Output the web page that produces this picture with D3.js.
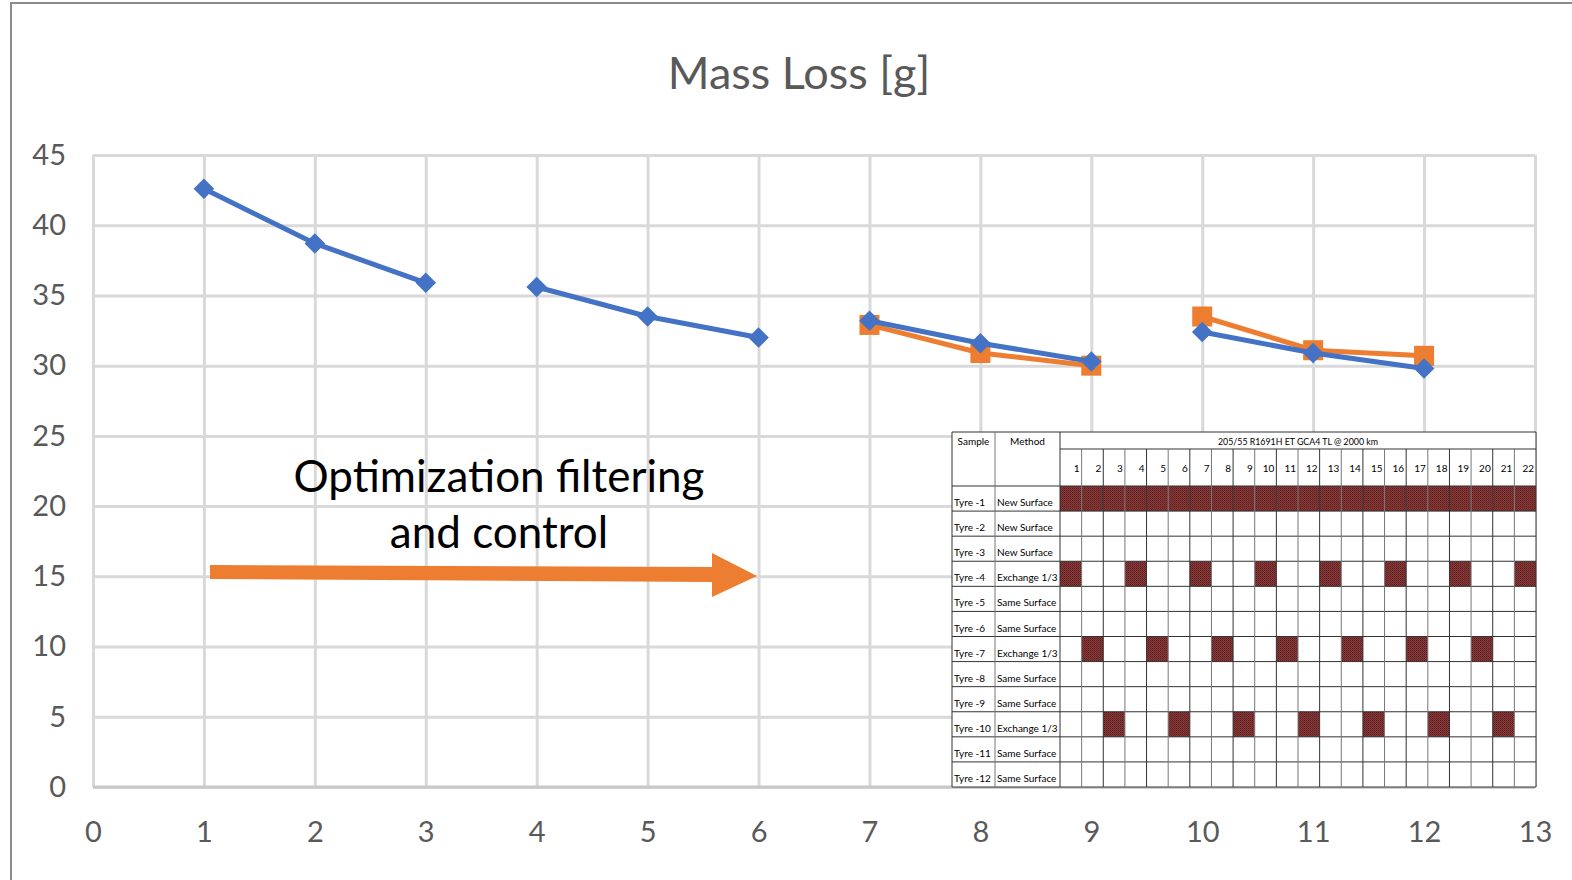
<!DOCTYPE html>
<html>
<head>
<meta charset="utf-8">
<script src="https://cdn.jsdelivr.net/npm/d3@7"></script>
<style>
  body { margin: 0; background: #fff; }
  svg { display: block; }
</style>
</head>
<body>
<div class="chart"></div>
<script>
// chart values
var xValues = [1, 2, 3, 4, 5, 6, 7, 8, 9, 10, 11, 12]
var segment = [1, 1, 1, 2, 2, 2, 3, 3, 3, 4, 4, 4]
var blueValues = [42.6, 38.7, 35.9, 35.6, 33.5, 32.0, 33.2, 31.6, 30.3, 32.4, 30.9, 29.8]
var orangeValues = [null, null, null, null, null, null, 32.9, 30.9, 30.0, 33.5, 31.1, 30.7]
var xTicks = [0, 1, 2, 3, 4, 5, 6, 7, 8, 9, 10, 11, 12, 13]
var yTicks = [0, 5, 10, 15, 20, 25, 30, 35, 40, 45]

// inset table values
var samples = ['Tyre -1', 'Tyre -2', 'Tyre -3', 'Tyre -4', 'Tyre -5', 'Tyre -6',
  'Tyre -7', 'Tyre -8', 'Tyre -9', 'Tyre -10', 'Tyre -11', 'Tyre -12']
var methods = ['New Surface', 'New Surface', 'New Surface', 'Exchange 1/3', 'Same Surface', 'Same Surface',
  'Exchange 1/3', 'Same Surface', 'Same Surface', 'Exchange 1/3', 'Same Surface', 'Same Surface']
var runs = [1, 2, 3, 4, 5, 6, 7, 8, 9, 10, 11, 12, 13, 14, 15, 16, 17, 18, 19, 20, 21, 22]
var filledRuns = [
  [1, 2, 3, 4, 5, 6, 7, 8, 9, 10, 11, 12, 13, 14, 15, 16, 17, 18, 19, 20, 21, 22],
  [], [],
  [1, 4, 7, 10, 13, 16, 19, 22],
  [], [],
  [2, 5, 8, 11, 14, 17, 20],
  [], [],
  [3, 6, 9, 12, 15, 18, 21],
  [], []
]
var tableTitle = '205/55 R1691H ET GCA4 TL  @ 2000 km'

var width = 1572
var height = 880
var blue = '#4472c4'
var orange = '#ed7d31'
var font = 'Lato, "Open Sans", sans-serif'

var svg = d3.select('.chart')
  .append('svg')
  .attr('width', width)
  .attr('height', height)

// frame
svg.append('path')
  .attr('d', 'M11,880 V3 H1572')
  .attr('fill', 'none')
  .attr('stroke', '#8c8c8c')
  .attr('stroke-width', 2)

var x = d3.scaleLinear().domain([0, 13]).range([93, 1535])
var y = d3.scaleLinear().domain([0, 45]).range([787, 155])

// title
svg.append('text')
  .attr('x', 799)
  .attr('y', 89)
  .attr('text-anchor', 'middle')
  .style('font-family', font)
  .style('font-size', '45px')
  .style('fill', '#595959')
  .text('Mass Loss [g]')

// gridlines
svg.append('g')
  .attr('transform', 'translate(0,' + y(0) + ')')
  .call(d3.axisBottom(x).tickValues(xTicks).tickSize(-(y(0) - y(45))).tickFormat(''))
  .call(function (g) { g.select('.domain').remove() })
  .selectAll('line').attr('stroke', '#d9d9d9').attr('stroke-width', 3)

svg.append('g')
  .attr('transform', 'translate(' + x(0) + ',0)')
  .call(d3.axisLeft(y).tickValues(yTicks).tickSize(-(x(13) - x(0))).tickFormat(''))
  .call(function (g) { g.select('.domain').remove() })
  .selectAll('line').attr('stroke', '#d9d9d9').attr('stroke-width', 3)

// axis baseline
svg.append('line')
  .attr('x1', x(0)).attr('x2', x(13))
  .attr('y1', y(0)).attr('y2', y(0))
  .attr('stroke', '#c8c8c8')
  .attr('stroke-width', 3)

// tick labels
var xAxis = svg.append('g')
  .attr('transform', 'translate(0,' + y(0) + ')')
  .call(d3.axisBottom(x).tickValues(xTicks).tickSize(0).tickPadding(34))
xAxis.select('.domain').remove()
xAxis.selectAll('text')
  .style('font-family', font)
  .style('font-size', '29px')
  .style('fill', '#595959')

var yAxis = svg.append('g')
  .attr('transform', 'translate(' + x(0) + ',0)')
  .call(d3.axisLeft(y).tickValues(yTicks).tickSize(0).tickPadding(27))
yAxis.select('.domain').remove()
yAxis.selectAll('text')
  .style('font-family', font)
  .style('font-size', '29px')
  .style('fill', '#595959')

// annotation text and arrow
var note = svg.append('text')
  .attr('text-anchor', 'middle')
  .style('font-family', font)
  .style('font-size', '44px')
  .style('fill', '#000')
note.append('tspan').attr('x', 499).attr('y', 492).text('Optimization filtering')
note.append('tspan').attr('x', 499).attr('y', 548).text('and control')

svg.append('path')
  .attr('d', 'M210,565 L712,567 L712,553 L757,576 L712,597 L712,582 L210,579 Z')
  .attr('fill', orange)

// series
var pts = xValues.map(function (d, i) {
  return {x: d, seg: segment[i], b: blueValues[i], o: orangeValues[i]}
})
var segs = d3.groups(pts, function (d) { return d.seg })

function drawSeries(key, color) {
  var line = d3.line()
    .defined(function (d) { return d[key] != null })
    .x(function (d) { return x(d.x) })
    .y(function (d) { return y(d[key]) })
  segs.forEach(function (s) {
    svg.append('path')
      .datum(s[1])
      .attr('d', line)
      .attr('fill', 'none')
      .attr('stroke', color)
      .attr('stroke-width', 5)
  })
}

drawSeries('o', orange)
svg.selectAll('.sq')
  .data(pts.filter(function (d) { return d.o != null }))
  .enter().append('rect')
  .attr('class', 'sq')
  .attr('x', function (d) { return x(d.x) - 10 })
  .attr('y', function (d) { return y(d.o) - 10 })
  .attr('width', 20)
  .attr('height', 20)
  .attr('fill', orange)

drawSeries('b', blue)
svg.selectAll('.dm')
  .data(pts)
  .enter().append('path')
  .attr('class', 'dm')
  .attr('d', d3.symbol().type(d3.symbolDiamond2).size(270))
  .attr('transform', function (d) { return 'translate(' + x(d.x) + ',' + y(d.b) + ')' })
  .attr('fill', blue)

// inset table
var defs = svg.append('defs')
var pat = defs.append('pattern')
  .attr('id', 'hatch')
  .attr('width', 2).attr('height', 2)
  .attr('patternUnits', 'userSpaceOnUse')
pat.append('rect').attr('width', 2).attr('height', 2).attr('fill', '#8a3a3a')
pat.append('rect').attr('width', 1).attr('height', 1).attr('fill', '#5a1f1f')
pat.append('rect').attr('x', 1).attr('y', 1).attr('width', 1).attr('height', 1).attr('fill', '#6a2828')

var tLeft = 952, tRight = 1536, tTop = 432, tBottom = 787
var colSample = 995, colMethod = 1060
var hdr1 = 449, hdr2 = 486

var cx = d3.scaleBand().domain(runs).range([colMethod, tRight])
var ry = d3.scaleBand().domain(samples).range([hdr2, tBottom])

var table = svg.append('g').style('font-family', font).style('font-size', '10px').style('fill', '#000')

table.append('rect')
  .attr('x', tLeft).attr('y', tTop)
  .attr('width', tRight - tLeft).attr('height', tBottom - tTop)
  .attr('fill', '#fff')

// filled cells
samples.forEach(function (s, i) {
  table.selectAll(null)
    .data(filledRuns[i])
    .enter().append('rect')
    .attr('x', function (d) { return cx(d) })
    .attr('y', ry(s))
    .attr('width', cx.bandwidth())
    .attr('height', ry.bandwidth())
    .attr('fill', 'url(#hatch)')
})

// grid of table
var hLines = [tTop, hdr1, hdr2].concat(samples.map(function (s) { return ry(s) + ry.bandwidth() }))
table.selectAll('.hl')
  .data(hLines)
  .enter().append('line')
  .attr('x1', function (d, i) { return i === 1 ? colMethod : tLeft })
  .attr('x2', tRight)
  .attr('y1', function (d) { return d }).attr('y2', function (d) { return d })
  .attr('stroke', '#333')
  .attr('stroke-width', 1)

var vLines = [tLeft, colSample, colMethod].concat(runs.map(function (r) { return cx(r) + cx.bandwidth() }))
table.selectAll('.vl')
  .data(vLines)
  .enter().append('line')
  .attr('x1', function (d) { return d }).attr('x2', function (d) { return d })
  .attr('y1', function (d, i) { return i > 2 && i < vLines.length - 1 ? hdr1 : tTop })
  .attr('y2', tBottom)
  .attr('stroke', function (d, i) { return i % 2 === 0 ? '#333' : '#777' })
  .attr('stroke-width', 1)

// header texts
table.append('text').attr('x', (tLeft + colSample) / 2).attr('y', hdr1 - 4)
  .attr('text-anchor', 'middle').text('Sample')
table.append('text').attr('x', (colSample + colMethod) / 2).attr('y', hdr1 - 4)
  .attr('text-anchor', 'middle').text('Method')
table.append('text').attr('x', (colMethod + tRight) / 2).attr('y', hdr1 - 4)
  .attr('text-anchor', 'middle').attr('textLength', 160).attr('lengthAdjust', 'spacingAndGlyphs')
  .text(tableTitle)

table.selectAll('.rn')
  .data(runs)
  .enter().append('text')
  .attr('x', function (d) { return cx(d) + cx.bandwidth() - 2 })
  .attr('y', 472)
  .attr('text-anchor', 'end')
  .text(function (d) { return d })

table.selectAll('.sm')
  .data(samples)
  .enter().append('text')
  .attr('x', tLeft + 2)
  .attr('y', function (d) { return ry(d) + ry.bandwidth() - 5 })
  .text(function (d) { return d })

table.selectAll('.mt')
  .data(methods)
  .enter().append('text')
  .attr('x', colSample + 2)
  .attr('y', function (d, i) { return ry(samples[i]) + ry.bandwidth() - 5 })
  .text(function (d) { return d })
</script>
</body>
</html>
